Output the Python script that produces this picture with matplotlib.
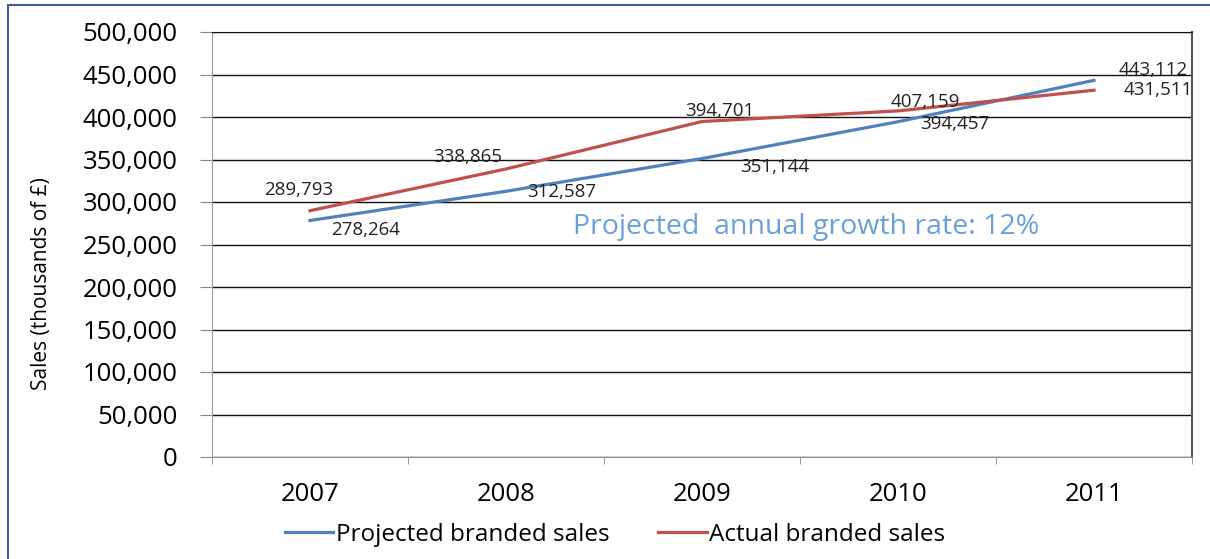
import numpy as np
import matplotlib
matplotlib.use("Agg")
import matplotlib.pyplot as plt
from matplotlib.patches import Rectangle

plt.rcParams["font.family"] = ["Open Sans", "DejaVu Sans"]

# data
years = ["2007", "2008", "2009", "2010", "2011"]
projected = [278264, 312587, 351144, 394457, 443112]
actual = [289793, 338865, 394701, 407159, 431511]

# label offsets in pixels (dx, dy)
proj_offsets = [(56, -10), (56, -1), (73, -8), (57, -2), (59, 10)]
act_offsets = [(-11, 21), (-38, 12), (18, 11), (27, 9), (64, 0)]

blue = "#4F81BD"
red = "#C0504D"

fig = plt.figure(figsize=(12.1, 5.59), dpi=100)
ax = fig.add_axes([212/1210, 1 - 457/559, (1192-212)/1210, (457-32)/559])

x = np.arange(len(years))
ax.plot(x, projected, color=blue, lw=2.3, label="Projected branded sales")
ax.plot(x, actual, color=red, lw=2.3, label="Actual branded sales")

for xi, v, off in zip(x, projected, proj_offsets):
    ax.annotate(f"{v:,}", (xi, v), xytext=off, textcoords="offset pixels",
                ha="center", va="center", fontsize=13.5, color="#222222")
for xi, v, off in zip(x, actual, act_offsets):
    ax.annotate(f"{v:,}", (xi, v), xytext=off, textcoords="offset pixels",
                ha="center", va="center", fontsize=13.5, color="#222222")

ax.text(2.53, 270500, "Projected  annual growth rate: 12%", color="#6A9FD8",
        fontsize=20.5, ha="center", va="center")

ax.set_xlim(-0.5, 4.5)
ax.set_ylim(0, 500000)
ax.set_yticks(np.arange(0, 500001, 50000))
ax.yaxis.set_major_formatter(matplotlib.ticker.FuncFormatter(lambda v, p: f"{int(v):,}"))
ax.set_xticks(x)
ax.set_xticklabels(years)
ax.set_xticks(np.arange(-0.5, 4.6, 1), minor=True)
ax.tick_params(axis="x", which="major", length=0, pad=18, labelsize=18.5)
ax.tick_params(axis="x", which="minor", length=5, color="#888888")
ax.tick_params(axis="y", length=8.6, color="#888888", labelsize=18.5, pad=16)

ax.grid(axis="y", color="#111111", lw=1)
ax.set_axisbelow(True)
ax.spines["left"].set_color("#999999")
ax.spines["bottom"].set_color("#999999")
ax.spines["right"].set_color("#555555")
ax.spines["right"].set_linewidth(1.5)
ax.spines["top"].set_color("#111111")

ax.set_ylabel("Sales (thousands of £)", fontsize=15)
ax.yaxis.set_label_coords((52 - 212) / 980, (457 - 284) / 425)

fig.legend(loc="center", bbox_to_anchor=(615/1210, 1 - 535/559), ncol=2,
           frameon=False, fontsize=17.5, handlelength=2.0, handletextpad=0.1,
           columnspacing=2.0)

fig.patches.append(Rectangle((8/1210, -0.05), 1.1, 1 - 5/559 + 0.05,
                             transform=fig.transFigure, fill=False,
                             edgecolor="#3A5F9A", lw=1.5))

fig.savefig("out.png", dpi=100)
